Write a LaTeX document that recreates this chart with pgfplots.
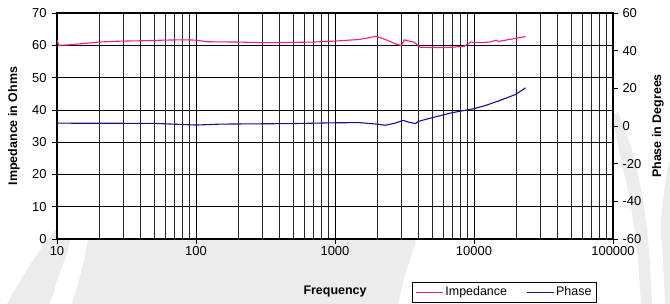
\documentclass[border=0pt]{standalone}
\usepackage{fontspec}
\setmainfont{Liberation Sans}
\usepackage{pgfplots}
\pgfplotsset{compat=1.18}
\definecolor{imp}{RGB}{240,30,135}
\definecolor{pha}{RGB}{20,20,140}
\definecolor{wm}{RGB}{236,236,236}

\begin{document}
\begin{tikzpicture}
\path[use as bounding box] (0,0) rectangle (670bp,304bp);
% faint watermark
\begin{scope}[x=1bp,y=-1bp,shift={(0bp,304bp)}]
  \fill[wm] plot[smooth] coordinates {(7,304) (22,278) (40,250) (55,230)}
     -- plot[smooth] coordinates {(72,230) (68,250) (58,278) (50,304)} -- cycle;
  \fill[wm] plot[smooth] coordinates {(72,304) (80,276) (86,250) (90,230)}
     -- (415,230) -- plot[smooth] coordinates {(415,245) (405,275) (398,304)} -- cycle;
  \fill[wm] plot[smooth] coordinates {(612,115) (621,160) (630,200) (637,250) (641,304)}
     -- plot[smooth] coordinates {(652,304) (649,250) (643,200) (632,150) (618,112)} -- cycle;
  \fill[wm] plot[smooth] coordinates {(668,165) (661,220) (663,260) (665,304)}
     -- (670,304) -- (670,160) -- cycle;
\end{scope}

\begin{axis}[
  at={(57bp,65bp)}, anchor=south west,
  scale only axis, width=556bp, height=226bp,
  xmode=log, xmin=10, xmax=100000,
  tick align=outside, major tick length=5bp, minor tick length=0pt,
  every tick/.style={black, line width=0.6bp},
  /pgf/number format/assume math mode=true,
  tick label style={font=\fontsize{13}{15}\selectfont},
  yticklabel style={xshift=-2bp},
  xticklabel style={yshift=1.5bp},
  ymin=0, ymax=70, ytick={0,10,20,30,40,50,60,70},
  xtick={10,100,1000,10000,100000},
  xticklabels={10,100,1000,10000,100000},
  minor xtick={20,30,40,50,60,70,80,90,200,300,400,500,600,700,800,900,2000,3000,4000,5000,6000,7000,8000,9000,20000,30000,40000,50000,60000,70000,80000,90000},
  xtick pos=bottom, ytick pos=left,
  xmajorgrids, xminorgrids, ymajorgrids,
  major grid style={black, line width=0.6bp},
  minor grid style={black!85, line width=0.6bp},
  axis line style={line width=1.9bp},
  axis background/.style={fill=white},
  every axis y label/.style={at={(axis description cs:-0.0773,0.5)}, rotate=90, anchor=center},
  every axis x label/.style={at={(axis description cs:0.5,-0.2345)}, anchor=center},
  label style={font=\fontsize{12.5}{14}\selectfont\bfseries},
  ylabel={Impedance in Ohms},
  xlabel={Frequency},
]
\addplot[imp, line width=1.1bp] coordinates {
(10,61.7) (10.3,60.0) (12,60.1) (15,60.5) (20,61.0) (25,61.2) (30,61.3) (40,61.4)
(60,61.6) (80,61.7) (100,61.6) (120,61.1) (200,61.0) (300,60.8) (500,60.9) (700,61.0)
(1000,61.3) (1500,61.8) (1970,62.8) (2300,61.8) (2700,60.5) (3000,59.9) (3150,61.7)
(3400,61.3) (3700,61.0) (4100,59.4) (5000,59.3) (6000,59.3) (7000,59.4) (8500,59.7)
(9500,61.0) (10000,60.9) (11000,60.8) (13000,61.0) (14500,61.6) (15000,61.2)
(18000,61.8) (23500,62.7)
};
\end{axis}

\begin{axis}[
  at={(57bp,65bp)}, anchor=south west,
  scale only axis, width=556bp, height=226bp,
  xmode=log, xmin=10, xmax=100000,
  tick align=outside, major tick length=5bp, minor tick length=0pt,
  every tick/.style={black, line width=0.6bp},
  /pgf/number format/assume math mode=true,
  tick label style={font=\fontsize{13}{15}\selectfont},
  yticklabel style={xshift=1bp},
  ymin=-60, ymax=60, ytick={-60,-40,-20,0,20,40,60},
  hide x axis,
  ytick pos=right, yticklabel pos=right,
  y axis line style={draw=none},
  every axis y label/.style={at={(axis description cs:1.081,0.5)}, rotate=90, anchor=center},
  label style={font=\fontsize{12.5}{14}\selectfont\bfseries},
  ylabel={Phase in Degrees},
  legend columns=2,
  legend style={at={(axis description cs:0.6385,-0.1903)}, anchor=north west,
    draw=black, line width=0.7bp, fill=white,
    font=\fontsize{12.5}{15}\selectfont, inner xsep=3bp, inner ysep=2.5bp,
    /tikz/every even column/.append style={column sep=17bp}},
  legend image code/.code={\draw[#1] (0bp,0bp) -- (27bp,0bp);},
]
\addlegendimage{imp, line width=1.1bp}
\addlegendentry{Impedance}
\addplot[pha, line width=1.1bp] coordinates {
(10,1.5) (50,1.4) (100,0.5) (150,1.0) (500,1.3) (1000,1.7) (1500,1.8) (2000,1.0)
(2300,0.4) (2700,1.5) (3100,3.0) (3400,2.0) (3800,1.3) (4000,2.5) (4650,3.8)
(5250,4.8) (6900,7.0) (9000,8.6) (10000,9.2) (12000,10.8) (15400,13.6) (20000,16.8)
(23500,20.3)
};
\addlegendentry{Phase}
\end{axis}
\end{tikzpicture}
\end{document}
